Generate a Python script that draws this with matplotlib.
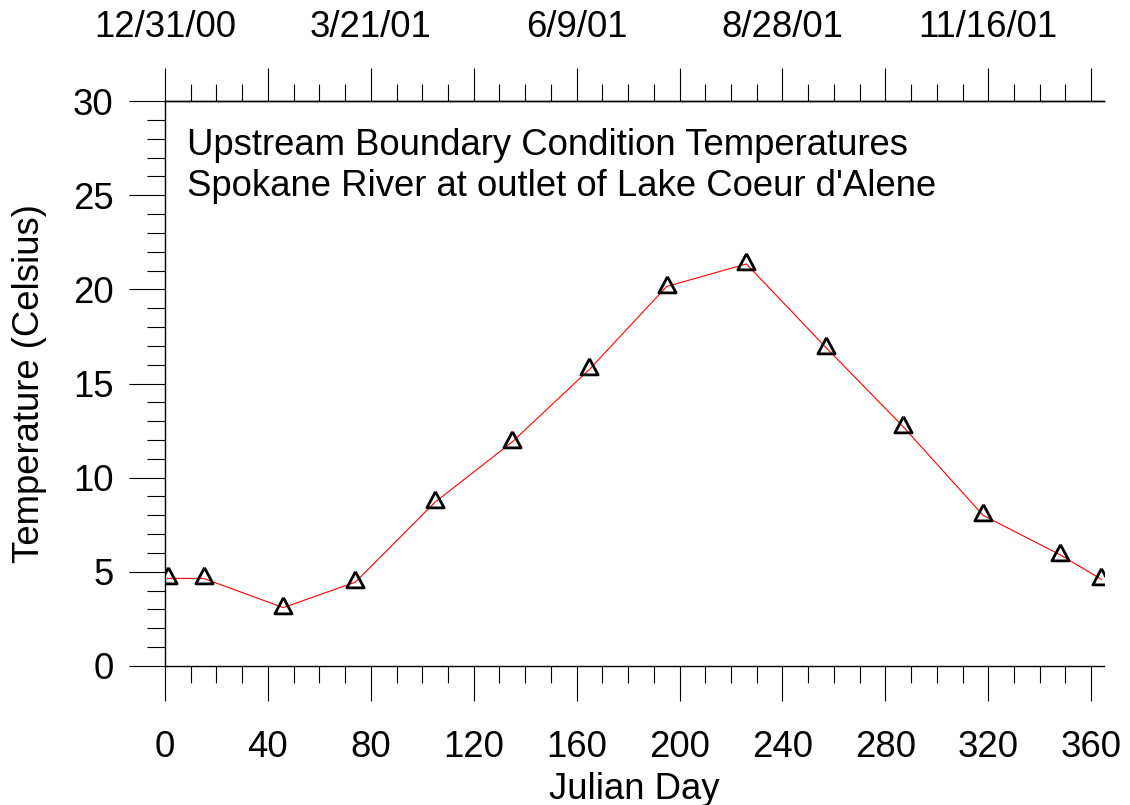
import matplotlib
matplotlib.use("Agg")
import matplotlib.pyplot as plt
from matplotlib.ticker import MultipleLocator, FixedLocator, FixedFormatter
import numpy as np

plt.rcParams['font.family'] = ['Liberation Sans', 'DejaVu Sans']

# --- data ---
julian_day = [1, 15, 46, 74, 105, 135, 165, 195, 226, 257, 287, 318, 348, 364]
temp_c = [4.65, 4.65, 3.1, 4.45, 8.7, 11.9, 15.75, 20.15, 21.35, 16.9, 12.7,
          8.0, 5.9, 4.6]

bottom_ticks = list(range(0, 361, 40))
top_ticks = list(range(0, 361, 40))
top_labels = ['12/31/00', '', '3/21/01', '', '6/9/01', '', '8/28/01', '',
              '11/16/01', '']

title_lines = ["Upstream Boundary Condition Temperatures",
               "Spokane River at outlet of Lake Coeur d'Alene"]

fs = 26.3

fig = plt.figure(figsize=(11.3, 8.05), dpi=100)
ax = fig.add_axes([0.146, 0.1727, 0.831, 0.7018])

# triangle marker centred on its centroid
tri = [(0, 2), (-1.6, -1), (1.6, -1), (0, 2)]
ax.plot(julian_day, temp_c, color='red', lw=0.8, zorder=2)
ax.plot(julian_day, temp_c, linestyle='none', marker=tri, ms=15.5,
        mfc='none', mec='black', mew=2.0, zorder=3)

ax.set_xlim(0, 365)
ax.set_ylim(0, 30)

ax.spines['right'].set_visible(False)
for s in ['left', 'bottom', 'top']:
    ax.spines[s].set_linewidth(1.0)

ax.xaxis.set_major_locator(FixedLocator(bottom_ticks))
ax.xaxis.set_minor_locator(MultipleLocator(10))
ax.yaxis.set_major_locator(MultipleLocator(5))
ax.yaxis.set_minor_locator(MultipleLocator(1))

ax.tick_params(axis='x', which='major', direction='out', length=25, width=0.8,
               labelsize=fs, pad=21)
ax.tick_params(axis='x', which='minor', direction='out', length=12.5, width=0.8)
ax.tick_params(axis='y', which='major', direction='out', length=26, width=0.8,
               labelsize=fs, pad=11)
ax.tick_params(axis='y', which='minor', direction='out', length=13, width=0.8)

top = ax.secondary_xaxis('top')
top.xaxis.set_major_locator(FixedLocator(top_ticks))
top.xaxis.set_major_formatter(FixedFormatter(top_labels))
top.xaxis.set_minor_locator(MultipleLocator(10))
top.tick_params(axis='x', which='major', direction='out', length=24, width=0.8,
                labelsize=fs, pad=16)
top.tick_params(axis='x', which='minor', direction='out', length=12, width=0.8)
top.spines['top'].set_linewidth(1.0)

ax.set_xlabel("Julian Day", fontsize=fs, labelpad=5)
ax.set_ylabel("Temperature (Celsius)", fontsize=fs, labelpad=19)

ax.text(0.023, 0.953, title_lines[0] + "\n" + title_lines[1],
        transform=ax.transAxes, fontsize=fs, va='top', ha='left',
        linespacing=1.25)

fig.savefig("out.png", dpi=100, facecolor='white')
